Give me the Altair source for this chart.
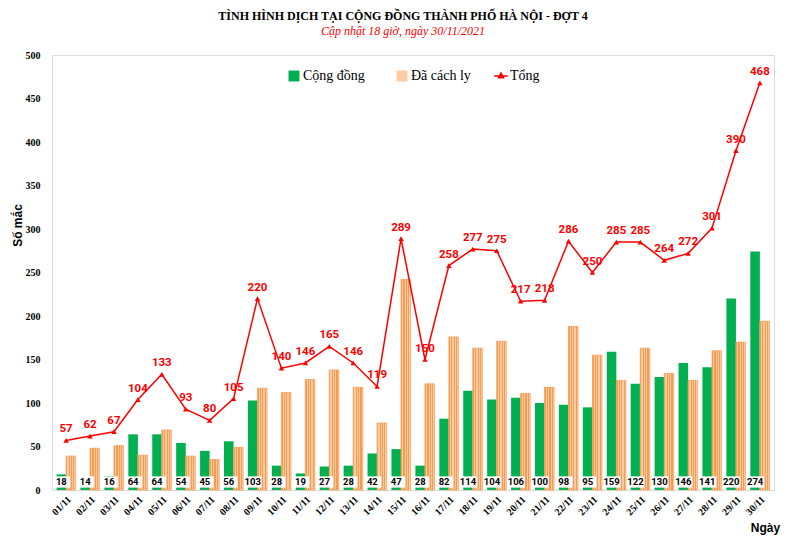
import altair as alt
import pandas as pd

days = ["01/11", "02/11", "03/11", "04/11", "05/11", "06/11", "07/11", "08/11", "09/11", "10/11",
        "11/11", "12/11", "13/11", "14/11", "15/11", "16/11", "17/11", "18/11", "19/11", "20/11",
        "21/11", "22/11", "23/11", "24/11", "25/11", "26/11", "27/11", "28/11", "29/11", "30/11"]
community = [18, 14, 16, 64, 64, 54, 45, 56, 103, 28, 19, 27, 28, 42, 47, 28, 82, 114, 104, 106,
             100, 98, 95, 159, 122, 130, 146, 141, 220, 274]
isolated = [39, 48, 51, 40, 69, 39, 35, 49, 117, 112, 127, 138, 118, 77, 242, 122, 176, 163, 171, 111,
            118, 188, 155, 126, 163, 134, 126, 160, 170, 194]
total = [57, 62, 67, 104, 133, 93, 80, 105, 220, 140, 146, 165, 146, 119, 289, 150, 258, 277, 275, 217,
         218, 286, 250, 285, 285, 264, 272, 301, 390, 468]

SER_C, SER_I, SER_T = "Cộng đồng", "Đã cách ly", "Tổng"
GREEN, ORANGE, RED = "#00b050", "#f79646", "#ff0000"

com_df = pd.DataFrame({"day": days, "series": [SER_C] * len(days), "value": community})
iso_df = pd.DataFrame({"day": days, "series": [SER_I] * len(days), "value": isolated})
tot_df = pd.DataFrame({"day": days, "series": [SER_T] * len(days), "value": total})

SERIF = "Liberation Serif"
SANS = "Roboto"

x_enc = alt.X(
    "day:N", sort=days, title="Ngày",
    scale=alt.Scale(paddingInner=0.2, paddingOuter=0.19),
    axis=alt.Axis(labelAngle=-45, labelFont=SERIF, labelFontWeight="bold", labelFontSize=10,
                  labelColor="black", ticks=False, domainColor="#d9d9d9", labelPadding=4,
                  titleFont="Liberation Sans", titleFontSize=12, titleFontWeight="bold",
                  titleColor="black", titleX=713, titleY=37, titleAlign="center",
                  titleBaseline="middle"),
)
y_enc = alt.Y(
    "value:Q", title="Số mắc",
    scale=alt.Scale(domain=[0, 500], nice=False),
    axis=alt.Axis(values=list(range(0, 501, 50)), labelFont=SERIF, labelFontWeight="bold",
                  labelFontSize=10, labelColor="black", ticks=False, grid=False,
                  domainColor="#d9d9d9", labelPadding=12,
                  titleFont="Liberation Sans", titleFontSize=12, titleFontWeight="bold",
                  titleColor="black", titleX=-35, titleY=170, titleAlign="center",
                  titleBaseline="middle"),
)
xoff = alt.XOffset("series:N", scale=alt.Scale(domain=[SER_C, SER_I], paddingInner=0, paddingOuter=0))

bar_legend = alt.Legend(
    orient="none", legendX=235, legendY=14, direction="horizontal", title=None,
    labelFont=SERIF, labelFontSize=14, labelColor="black", symbolSize=120, symbolType="square",
    columnPadding=30, labelOffset=2, padding=0, symbolStrokeWidth=0,
)
fill_enc = alt.Fill("series:N", scale=alt.Scale(domain=[SER_C, SER_I], range=[GREEN, "#fbcba4"]),
                    legend=bar_legend)

line_legend = alt.Legend(
    orient="none", legendX=442, legendY=14, direction="horizontal", title=None,
    labelFont=SERIF, labelFontSize=14, labelColor="black", symbolSize=120,
    symbolType="M-1.25,0H1.25M0,-0.55L0.45,0.3L-0.45,0.3Z", symbolFillColor=RED,
    symbolStrokeWidth=1.5, labelOffset=2, padding=0,
)
stroke_enc = alt.Stroke("series:N", scale=alt.Scale(domain=[SER_T], range=[RED]), legend=line_legend)

green_bars = alt.Chart(com_df).mark_bar().encode(x=x_enc, xOffset=xoff, y=y_enc, fill=fill_enc)
orange_bars = alt.Chart(iso_df).mark_bar(stroke="#f8a468", strokeWidth=0.8).encode(
    x=x_enc, xOffset=xoff, y=y_enc, fill=fill_enc)

stops = []
n = 4
for i in range(n):
    a = i / n
    b = (i + 0.5) / n
    c = (i + 1) / n
    stops += [alt.GradientStop(offset=a, color=ORANGE), alt.GradientStop(offset=b, color=ORANGE),
              alt.GradientStop(offset=b, color="rgba(255,255,255,0)"),
              alt.GradientStop(offset=c, color="rgba(255,255,255,0)")]
stripes = alt.Chart(iso_df).mark_bar(
    fill=alt.LinearGradient(gradient="linear", stops=stops, x1=0, x2=1, y1=0, y2=0),
    opacity=0.9,
).encode(x=x_enc, xOffset=xoff, y=y_enc)

line = alt.Chart(tot_df).mark_line(strokeWidth=1.5).encode(x=x_enc, y=y_enc, stroke=stroke_enc)
pts = alt.Chart(tot_df).mark_point(shape="triangle-up", filled=True, size=30, color=RED, opacity=1).encode(
    x=x_enc, y=y_enc)
tot_labels = alt.Chart(tot_df).mark_text(dy=-11, font=SANS, fontWeight="bold", fontSize=11.5, color=RED).encode(
    x=x_enc, y=y_enc, text="value:Q")

boxes = alt.Chart(com_df).mark_point(shape="M-1,-0.65H1V0.65H-1Z", filled=True, fill="white", opacity=1,
                                     size=300, strokeWidth=0).encode(
    x=x_enc, xOffset=xoff, y=alt.value(427))
com_labels = alt.Chart(com_df).mark_text(font=SANS, fontWeight="bold", fontSize=9.5, color="black",
                                         baseline="middle").encode(
    x=x_enc, xOffset=xoff, y=alt.value(427), text="value:Q")

chart = alt.layer(green_bars, orange_bars, stripes, line, pts, tot_labels, boxes, com_labels).properties(
    width=722, height=435,
    title=alt.TitleParams(
        text="TÌNH HÌNH DỊCH TẠI CỘNG ĐỒNG THÀNH PHỐ HÀ NỘI - ĐỢT 4",
        subtitle="Cập nhật 18 giờ, ngày 30/11/2021",
        font=SERIF, fontSize=12, fontWeight="bold", color="black",
        subtitleFont=SERIF, subtitleFontSize=12, subtitleFontStyle="italic", subtitleColor=RED,
        subtitlePadding=3, anchor="middle", offset=12, dx=-10,
    ),
    autosize=alt.AutoSizeParams(type="none"),
    padding={"left": 44, "top": 47, "right": 16, "bottom": 50},
).configure_view(stroke=None).configure(background="white")

chart.save("out.html", embed_options={"renderer": "svg", "actions": False})
